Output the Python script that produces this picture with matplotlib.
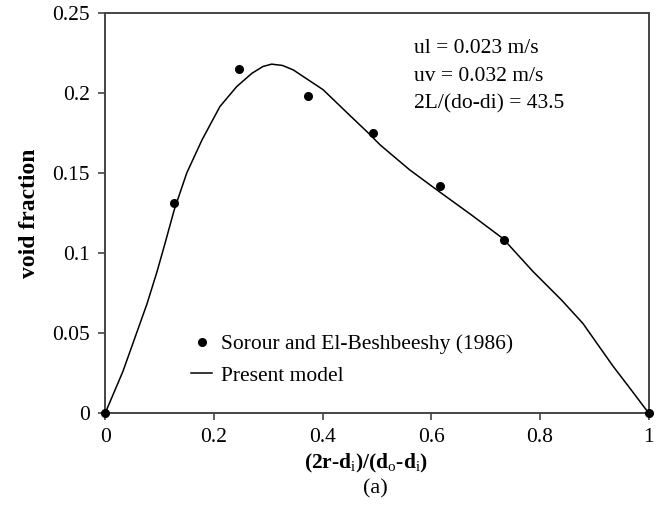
from matplotlib import pyplot as plt

plt.rcParams['font.family'] = 'Liberation Serif'
plt.rcParams['mathtext.fontset'] = 'custom'
plt.rcParams['mathtext.rm'] = 'Liberation Serif'
plt.rcParams['mathtext.it'] = 'Liberation Serif:italic'
plt.rcParams['mathtext.bf'] = 'Liberation Serif:bold'

# experimental points (Sorour and El-Beshbeeshy 1986)
exp_x = [0, 0.127, 0.246, 0.374, 0.493, 0.616, 0.733, 1.0]
exp_y = [0, 0.131, 0.215, 0.198, 0.175, 0.142, 0.108, 0]

# present model curve
mod_x = [0, 0.0325, 0.0766, 0.095, 0.110, 0.127, 0.150, 0.178, 0.211, 0.242,
         0.270, 0.290, 0.306, 0.326, 0.346, 0.401, 0.450, 0.481, 0.506, 0.560,
         0.616, 0.675, 0.732, 0.787, 0.840, 0.879, 0.934, 0.970, 1.0]
mod_y = [0, 0.0260, 0.0680, 0.0880, 0.106, 0.127, 0.150, 0.1706, 0.1915, 0.204,
         0.2123, 0.2165, 0.218, 0.2172, 0.2144, 0.202, 0.186, 0.176, 0.1675,
         0.152, 0.138, 0.1235, 0.109, 0.0885, 0.0705, 0.056, 0.0295, 0.0135, 0]

notes = ['ul = 0.023 m/s', 'uv = 0.032 m/s', '2L/(do-di) = 43.5']

fig = plt.figure(figsize=(6.66, 5.17), dpi=100)
ax = fig.add_axes([0.158, 0.201, 0.816, 0.774])

ax.plot(exp_x, exp_y, 'o', color='black', markersize=5.5,
        label='Sorour and El-Beshbeeshy (1986)', clip_on=False, zorder=3)
ax.plot(mod_x, mod_y, '-', color='black', linewidth=1.1, label='Present model')

ax.set_xlim(0, 1)
ax.set_ylim(0, 0.25)
ax.set_xticks([0, 0.2, 0.4, 0.6, 0.8, 1])
ax.set_xticklabels(['0', '0.2', '0.4', '0.6', '0.8', '1'])
ax.set_yticks([0, 0.05, 0.1, 0.15, 0.2, 0.25])
ax.set_yticklabels(['0', '0.05', '0.1', '0.15', '0.2', '0.25'])
ax.tick_params(direction='out', length=5, width=1.2, color='#444444',
               labelsize=15.5, pad=6)
for s in ax.spines.values():
    s.set_color('#444444')
    s.set_linewidth(1.4)

fig.text(0.55, 0.104, r'(2r-d$_{\rm i}$)/(d$_{\rm o}$-d$_{\rm i}$)', fontsize=15.5,
         fontweight='bold', ha='center', va='center')
ax.set_ylabel('void fraction', fontsize=17, fontweight='bold', labelpad=9)

for i, t in enumerate(notes):
    ax.text(0.568, 0.2275 - i * 0.0172, t, fontsize=15.5, va='center', ha='left')

ax.legend(loc='lower left', bbox_to_anchor=(0.13, 0.03), frameon=False,
          fontsize=15.5, handlelength=1.0, handletextpad=0.4,
          labelspacing=0.55, borderpad=0.2)

fig.text(0.563, 0.054, '(a)', fontsize=16, ha='center', va='center')

plt.savefig('out.png', dpi=100)
